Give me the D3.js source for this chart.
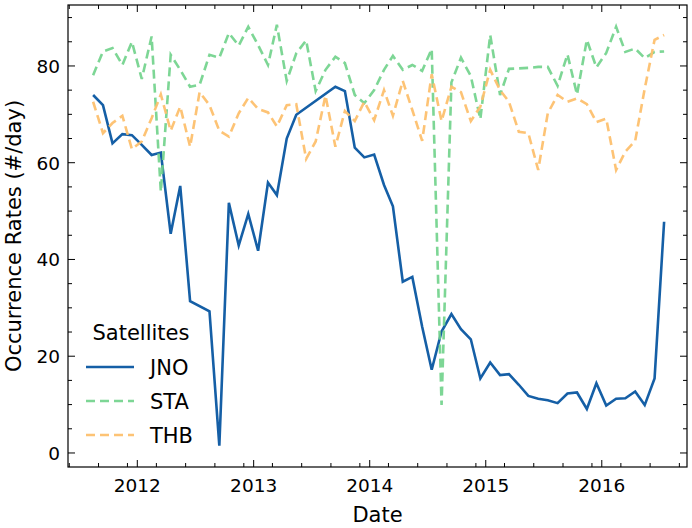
<!DOCTYPE html>
<html><head><meta charset="utf-8">
<script src="https://cdn.jsdelivr.net/npm/d3@7"></script>
<style>body{margin:0;background:#fff}text{font-family:"DejaVu Sans",sans-serif}</style>
</head><body>
<script>
// monthly rates
const jnoDates = ["2011-08","2011-09","2011-10","2011-11","2011-12","2012-01","2012-02","2012-03","2012-04","2012-05","2012-06",
  "2012-08","2012-09","2012-10","2012-11","2012-12","2013-01","2013-02","2013-03","2013-04","2013-05",
  "2013-09","2013-10","2013-11","2013-12",
  "2014-01","2014-02","2014-03","2014-04","2014-05","2014-06","2014-07","2014-08","2014-09","2014-10","2014-11","2014-12",
  "2015-01","2015-02","2015-03","2015-04","2015-05","2015-06","2015-07","2015-08","2015-09","2015-10","2015-11","2015-12",
  "2016-01","2016-02","2016-03","2016-04","2016-05","2016-06","2016-07"];
const jnoValues = [74.0,71.9,64.0,65.9,65.7,63.7,61.6,62.1,45.3,55.2,31.4,
  29.3,1.5,51.7,42.9,49.4,41.8,55.9,53.3,65.0,69.9,
  75.7,74.8,63.1,61.1,
  61.7,55.4,51.0,35.4,36.4,26.1,17.2,25.1,28.7,25.6,23.5,15.4,
  18.7,16.1,16.3,14.1,11.8,11.2,10.9,10.3,12.3,12.5,9.1,14.4,
  9.8,11.2,11.3,12.7,9.9,15.4,47.8];

const monthsAll = d3.timeMonths(new Date(2011,7,1), new Date(2016,7,1)).map(d3.timeFormat("%Y-%m"));
const staValues = [78.1,83.0,83.7,80.2,85.0,77.3,86.1,54.0,82.3,79.2,75.7,76.1,
  82.3,81.7,86.8,84.2,88.1,84.3,80.2,88.5,76.9,82.6,85.3,74.8,79.2,81.9,80.6,74.0,72.3,
  75.0,79.2,82.1,79.2,80.2,79.0,83.5,9.9,76.6,81.7,77.9,69.0,
  86.4,74.0,79.4,79.5,79.6,79.8,79.8,75.9,82.4,74.1,85.4,79.7,
  82.7,88.1,82.9,83.6,81.6,82.9,83.0];
const thbValues = [72.6,66.1,68.2,69.7,62.8,64.4,69.2,74.1,66.6,71.6,63.3,74.6,
  71.9,66.6,65.4,70.2,73.4,71.1,70.4,67.5,71.9,72.1,60.8,64.4,73.9,63.3,70.7,68.6,72.6,
  68.8,75.0,69.7,76.9,70.9,64.5,78.3,68.6,75.7,74.6,68.6,71.6,
  79.2,75.0,72.6,66.4,66.1,58.5,70.2,74.0,72.6,73.3,72.1,68.4,
  69.1,58.5,62.3,64.5,75.3,85.4,86.4];

const W = 692, H = 528, m = {l:68, r:5, t:5, b:61};
const parse = s => { const d = d3.timeParse("%Y-%m")(s); d.setDate(15); return d; };
const series = [
  {name:"JNO", color:"#155fa6", dash:null, opacity:1, pts: jnoDates.map((d,i)=>[parse(d), jnoValues[i]])},
  {name:"STA", color:"#6fd28a", dash:"9,5", opacity:0.9, pts: monthsAll.map((d,i)=>[parse(d), staValues[i]])},
  {name:"THB", color:"#fdc06e", dash:"9,5", opacity:0.95, pts: monthsAll.map((d,i)=>[parse(d), thbValues[i]])}
];

const svg = d3.select("body").append("svg").attr("width", W).attr("height", H);
const x = d3.scaleTime().domain([new Date(2011,4,28), new Date(2016,8,25)]).range([m.l, W - m.r]);
const y = d3.scaleLinear().domain([-2.9, 92.6]).range([H - m.b, m.t]);

const line = d3.line().x(d => x(d[0])).y(d => y(d[1]));
series.forEach(s => {
  svg.append("path").datum(s.pts).attr("d", line).attr("fill", "none")
    .attr("stroke", s.color).attr("stroke-width", 2.6).attr("stroke-opacity", s.opacity)
    .attr("stroke-dasharray", s.dash);
});

// axes, ticks inward on all sides
const years = d3.timeYears(new Date(2012,0,1), new Date(2016,1,1));
const quarters = d3.timeMonths(new Date(2011,5,1), new Date(2016,9,1), 3);
const g = svg.append("g");
function ticks(xs, len) {
  xs.forEach(d => {
    g.append("line").attr("x1", x(d)).attr("x2", x(d)).attr("y1", H - m.b).attr("y2", H - m.b - len);
    g.append("line").attr("x1", x(d)).attr("x2", x(d)).attr("y1", m.t).attr("y2", m.t + len);
  });
}
ticks(quarters, 4); ticks(years, 7);
d3.range(0, 95, 5).forEach(v => {
  const len = v % 20 === 0 ? 7 : 4;
  g.append("line").attr("x1", m.l).attr("x2", m.l + len).attr("y1", y(v)).attr("y2", y(v));
  g.append("line").attr("x1", W - m.r).attr("x2", W - m.r - len).attr("y1", y(v)).attr("y2", y(v));
});
g.selectAll("line").attr("stroke", "#000").attr("stroke-width", 1);
svg.append("rect").attr("x", m.l).attr("y", m.t).attr("width", W - m.l - m.r).attr("height", H - m.t - m.b)
  .attr("fill", "none").attr("stroke", "#000").attr("stroke-width", 1.2);

svg.selectAll(".xt").data(years).join("text").attr("x", d => x(d)).attr("y", H - m.b + 25)
  .attr("text-anchor", "middle").attr("font-size", 18.5).text(d3.timeFormat("%Y"));
svg.selectAll(".yt").data(d3.range(0, 81, 20)).join("text").attr("x", m.l - 8).attr("y", d => y(d) + 7)
  .attr("text-anchor", "end").attr("font-size", 18.5).text(d => d);
svg.append("text").attr("x", (m.l + W - m.r) / 2).attr("y", H - 6).attr("text-anchor", "middle")
  .attr("font-size", 21).text("Date");
svg.append("text").attr("transform", `translate(21,${(m.t + H - m.b) / 2}) rotate(-90)`)
  .attr("text-anchor", "middle").attr("font-size", 21).text("Occurrence Rates (#/day)");

// legend
const lg = svg.append("g");
lg.append("text").attr("x", 141).attr("y", 340).attr("text-anchor", "middle").attr("font-size", 21).text("Satellites");
series.forEach((s, i) => {
  const yy = 367 + i * 34;
  lg.append("line").attr("x1", 86).attr("x2", 134).attr("y1", yy).attr("y2", yy)
    .attr("stroke", s.color).attr("stroke-width", 2.6).attr("stroke-opacity", s.opacity).attr("stroke-dasharray", s.dash);
  lg.append("text").attr("x", 150).attr("y", yy + 8).attr("font-size", 21).text(s.name);
});
</script>
</body></html>
